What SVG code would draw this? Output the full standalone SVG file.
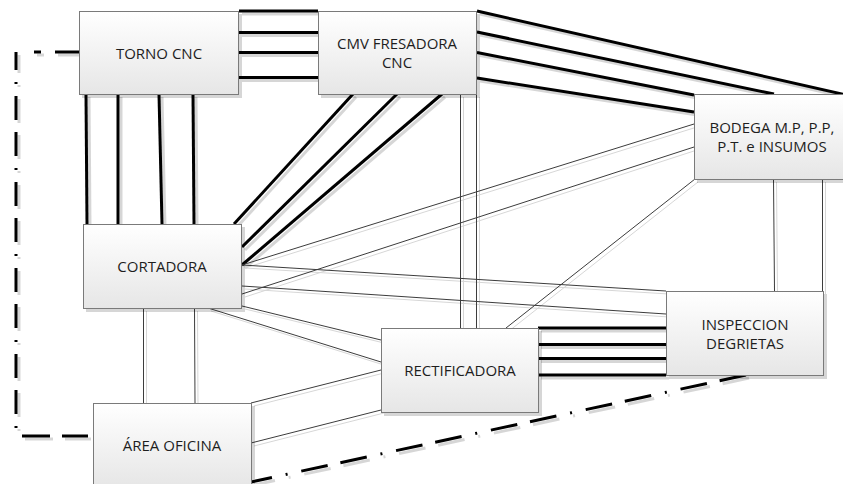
<svg xmlns="http://www.w3.org/2000/svg" width="843" height="484" viewBox="0 0 843 484">
  <defs>
    <linearGradient id="boxFill" x1="0" y1="0" x2="0" y2="1">
      <stop offset="0" stop-color="#ffffff"/>
      <stop offset="1" stop-color="#e6e6e6"/>
    </linearGradient>
    <filter id="shadow" x="-5%" y="-5%" width="115%" height="115%">
      <feGaussianBlur in="SourceAlpha" stdDeviation="0.6" result="blur"/>
      <feOffset in="blur" dx="3" dy="3" result="off"/>
      <feFlood flood-color="#000000" flood-opacity="0.16"/>
      <feComposite in2="off" operator="in" result="sh"/>
      <feMerge>
        <feMergeNode in="sh"/>
        <feMergeNode in="SourceGraphic"/>
      </feMerge>
    </filter>
    <style>
      .box { fill: url(#boxFill); stroke: #7a7a7a; stroke-width: 1; }
      .label { font-family: "Open Sans", "Liberation Sans", sans-serif; font-size: 15px; fill: #1e1e1e; text-anchor: middle; }
      .thick { stroke: #000000; stroke-width: 3; fill: none; }
      .thin { stroke: #3c3c3c; stroke-width: 1; fill: none; }
      .dashdot { stroke: #000000; stroke-width: 3; fill: none; }
    </style>
  </defs>
  <rect width="843" height="484" fill="#ffffff"/>

  <!-- connectors -->
  <g id="connectors" filter="url(#shadow)">
    <!-- TORNO CNC - CMV FRESADORA CNC -->
    <line class="thick" x1="239" y1="11" x2="318" y2="11"/>
    <line class="thick" x1="239" y1="32.5" x2="318" y2="32.5"/>
    <line class="thick" x1="239" y1="52.5" x2="318" y2="52.5"/>
    <line class="thick" x1="239" y1="77.5" x2="318" y2="77.5"/>
    <!-- TORNO CNC - CORTADORA -->
    <line class="thick" x1="86" y1="94" x2="87" y2="224"/>
    <line class="thick" x1="118" y1="94" x2="118" y2="224"/>
    <line class="thick" x1="159" y1="94" x2="162" y2="224"/>
    <line class="thick" x1="193" y1="94" x2="194" y2="224"/>
    <!-- CMV FRESADORA CNC - CORTADORA -->
    <line class="thick" x1="353" y1="94" x2="234" y2="224"/>
    <line class="thick" x1="397" y1="94" x2="242" y2="247"/>
    <line class="thick" x1="442" y1="94" x2="242" y2="265"/>
    <!-- CMV FRESADORA CNC - BODEGA -->
    <line class="thick" x1="477" y1="11" x2="846" y2="95"/>
    <line class="thick" x1="477" y1="32" x2="774" y2="94"/>
    <line class="thick" x1="477" y1="52.5" x2="694" y2="95"/>
    <line class="thick" x1="477" y1="78" x2="694" y2="112"/>
    <!-- RECTIFICADORA - INSPECCION -->
    <line class="thick" x1="538" y1="328" x2="666" y2="328"/>
    <line class="thick" x1="538" y1="344.5" x2="666" y2="344.5"/>
    <line class="thick" x1="538" y1="358.5" x2="666" y2="358.5"/>
    <line class="thick" x1="538" y1="375" x2="666" y2="375"/>

    <!-- CORTADORA - BODEGA -->
    <line class="thin" x1="242" y1="265" x2="694" y2="124"/>
    <line class="thin" x1="242" y1="294" x2="694" y2="147"/>
    <!-- CORTADORA - INSPECCION -->
    <line class="thin" x1="242" y1="265" x2="666" y2="291"/>
    <line class="thin" x1="242" y1="286" x2="666" y2="314"/>
    <!-- CORTADORA - RECTIFICADORA -->
    <line class="thin" x1="242" y1="306" x2="381" y2="340"/>
    <line class="thin" x1="208" y1="308" x2="381" y2="362"/>
    <!-- CORTADORA - AREA OFICINA -->
    <line class="thin" x1="143.5" y1="308" x2="143.5" y2="403"/>
    <line class="thin" x1="194.5" y1="308" x2="195" y2="403"/>
    <!-- AREA OFICINA - RECTIFICADORA -->
    <line class="thin" x1="251" y1="403" x2="381" y2="370"/>
    <line class="thin" x1="251" y1="443" x2="381" y2="410"/>
    <!-- CMV FRESADORA CNC - RECTIFICADORA -->
    <line class="thin" x1="460.5" y1="94" x2="460.5" y2="328"/>
    <line class="thin" x1="476.5" y1="94" x2="476.5" y2="328"/>
    <!-- BODEGA - RECTIFICADORA -->
    <line class="thin" x1="695" y1="179" x2="506" y2="328"/>
    <!-- BODEGA - INSPECCION -->
    <line class="thin" x1="773.5" y1="179" x2="774.5" y2="291"/>
    <line class="thin" x1="822.5" y1="179" x2="822.5" y2="291"/>

    <!-- TORNO CNC - AREA OFICINA (dash-dot) -->
    <path class="dashdot" d="M79,52 H16" stroke-dasharray="24 14 7 100"/>
    <path class="dashdot" d="M16,436 V52" stroke-dasharray="24 12 24 12 2 12" stroke-dashoffset="64"/>
    <path class="dashdot" d="M88,436 H22" stroke-dasharray="26 12 28 100"/>
    <!-- AREA OFICINA - INSPECCION (dash-dot) -->
    <path class="dashdot" d="M746,375 L251,482" stroke-dasharray="27 13 27 14 2 14"/>
  </g>

  <!-- nodes -->
  <g id="torno-cnc">
    <rect class="box" x="79.5" y="11.5" width="159" height="83" filter="url(#shadow)"/>
    <text class="label" x="159" y="58.5">TORNO CNC</text>
  </g>
  <g id="cmv-fresadora-cnc">
    <rect class="box" x="318.5" y="11.5" width="158" height="83" filter="url(#shadow)"/>
    <text class="label" x="397" y="48.5">CMV FRESADORA</text>
    <text class="label" x="397" y="68">CNC</text>
  </g>
  <g id="bodega">
    <rect class="box" x="694.5" y="94.5" width="156" height="85" filter="url(#shadow)"/>
    <text class="label" x="772" y="132.5">BODEGA M.P, P.P,</text>
    <text class="label" x="772" y="152">P.T. e INSUMOS</text>
  </g>
  <g id="cortadora">
    <rect class="box" x="83.5" y="224.5" width="158" height="84" filter="url(#shadow)"/>
    <text class="label" x="162" y="271.5">CORTADORA</text>
  </g>
  <g id="inspeccion-degrietas">
    <rect class="box" x="666.5" y="291.5" width="157" height="84" filter="url(#shadow)"/>
    <text class="label" x="745" y="329.5">INSPECCION</text>
    <text class="label" x="745" y="348.5">DEGRIETAS</text>
  </g>
  <g id="rectificadora">
    <rect class="box" x="381.5" y="328.5" width="157" height="84" filter="url(#shadow)"/>
    <text class="label" x="460" y="375.5">RECTIFICADORA</text>
  </g>
  <g id="area-oficina">
    <rect class="box" x="93.5" y="403.5" width="158" height="84" filter="url(#shadow)"/>
    <text class="label" x="172" y="450.5">ÁREA OFICINA</text>
  </g>
</svg>
